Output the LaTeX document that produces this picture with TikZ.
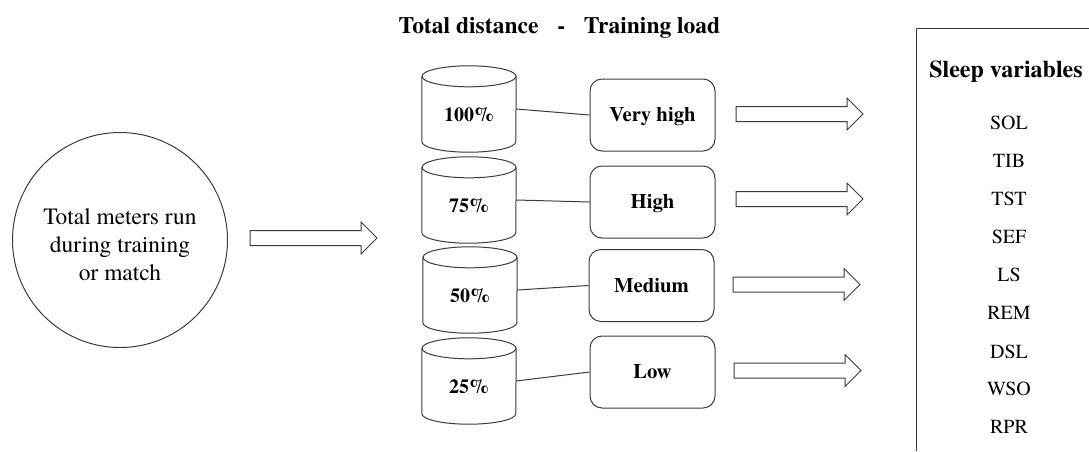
\documentclass[tikz,border=0pt]{standalone}
\usepackage{fontspec}
\setmainfont{TeX Gyre Termes}
\usetikzlibrary{positioning}

\definecolor{ink}{HTML}{3C3C3C}

\tikzset{
  outline/.style={draw=ink, line width=1pt},
  loadbox/.style={outline, rounded corners=12pt, minimum width=125pt, minimum height=72pt,
    inner sep=0pt, font=\fontsize{20.7}{24}\selectfont\bfseries, text height=13.7pt, text depth=0pt},
  drumbody/.style={minimum width=94pt, minimum height=86pt, inner sep=0pt},
  pct/.style={inner sep=0pt, font=\fontsize{20}{24}\selectfont\bfseries, text height=13.2pt, text depth=0pt},
  varname/.style={inner sep=0pt, font=\fontsize{20}{24}\selectfont, text height=13.2pt, text depth=0pt},
  link/.style={draw=ink, line width=1pt},
}

% cylinder: name, centre x, centre y, label
\newcommand{\drumat}[4]{%
  \node[drumbody] (#1) at (#2,#3) {};
  \draw[outline] ([yshift=-10.5pt]#1.north west) -- ([yshift=10.5pt]#1.south west)
    arc[start angle=180, end angle=360, x radius=47pt, y radius=10.5pt]
    -- ([yshift=-10.5pt]#1.north east);
  \draw[outline] ([yshift=-10.5pt]#1.north) ellipse [x radius=47pt, y radius=10.5pt];
  \node[pct] (#1-label) at ([yshift=-5.5pt]#1.center) {#4};
}

% hollow block arrow: name, tail x, axis y
\newcommand{\blockarrow}[3]{%
  \coordinate (#1) at (#2,#3);
  \draw[outline, line join=miter] (#1) ++(0,-7.5) -- ++(111,0) -- ++(0,-8.5) -- ++(16,16)
    -- ++(-16,16) -- ++(0,-8.5) -- ++(-111,0) -- cycle;
}

\begin{document}
\begin{tikzpicture}[x=1pt, y=-1pt]
\useasboundingbox (0,0) rectangle (1089,451);

% heading
\node[anchor=base, inner sep=0pt, font=\fontsize{23.5}{28}\selectfont\bfseries] (heading)
  at (559.5,33) {Total distance\hspace{0.8em}-\hspace{0.8em}Training load};

% source
\node[outline, circle, minimum size=215pt, inner sep=0pt] (source) at (120,240) {};
\node[align=center, inner sep=0pt, font=\fontsize{23.4}{28}\selectfont] (sourcetext)
  at ([yshift=-5pt]source.center) {Total meters run\\during training\\or match};

\blockarrow{inarrow}{250}{238}

% cylinders
\drumat{c1}{469}{109}{100\%}
\drumat{c2}{469}{200}{75\%}
\drumat{c3}{470}{290}{50\%}
\drumat{c4}{469}{381}{25\%}

% load levels
\node[loadbox] (b1) at (652.5,115) {Very high};
\node[loadbox] (b2) at (652.5,202) {High};
\node[loadbox] (b3) at (651.5,285.5) {Medium};
\node[loadbox] (b4) at (652.5,372) {Low};

\draw[link] (c1.east) -- (b1.west);
\draw[link] (c2.east) -- (b2.west);
\draw[link] (c3.east) -- (b3.west);
\draw[link] (c4.east) -- (b4.west);

\blockarrow{out1}{736}{114}
\blockarrow{out2}{736}{199}
\blockarrow{out3}{733}{284.5}
\blockarrow{out4}{734}{370.5}

% sleep variables panel
\draw[outline] (1089,28) -- (916,28) -- (916,451);
\node[inner sep=0pt, font=\fontsize{24}{28}\selectfont\bfseries, text height=15.9pt, text depth=0pt]
  (sleephead) at (1006,70) {Sleep variables};
\node[varname] (v1) at (1009,123) {SOL};
\node[varname] (v2) at (1009,161) {TIB};
\node[varname] (v3) at (1009,198.5) {TST};
\node[varname] (v4) at (1009,237) {SEF};
\node[varname] (v5) at (1009,275) {LS};
\node[varname] (v6) at (1009,313) {REM};
\node[varname] (v7) at (1009,351.5) {DSL};
\node[varname] (v8) at (1009,389) {WSO};
\node[varname] (v9) at (1009,427) {RPR};
\end{tikzpicture}
\end{document}
